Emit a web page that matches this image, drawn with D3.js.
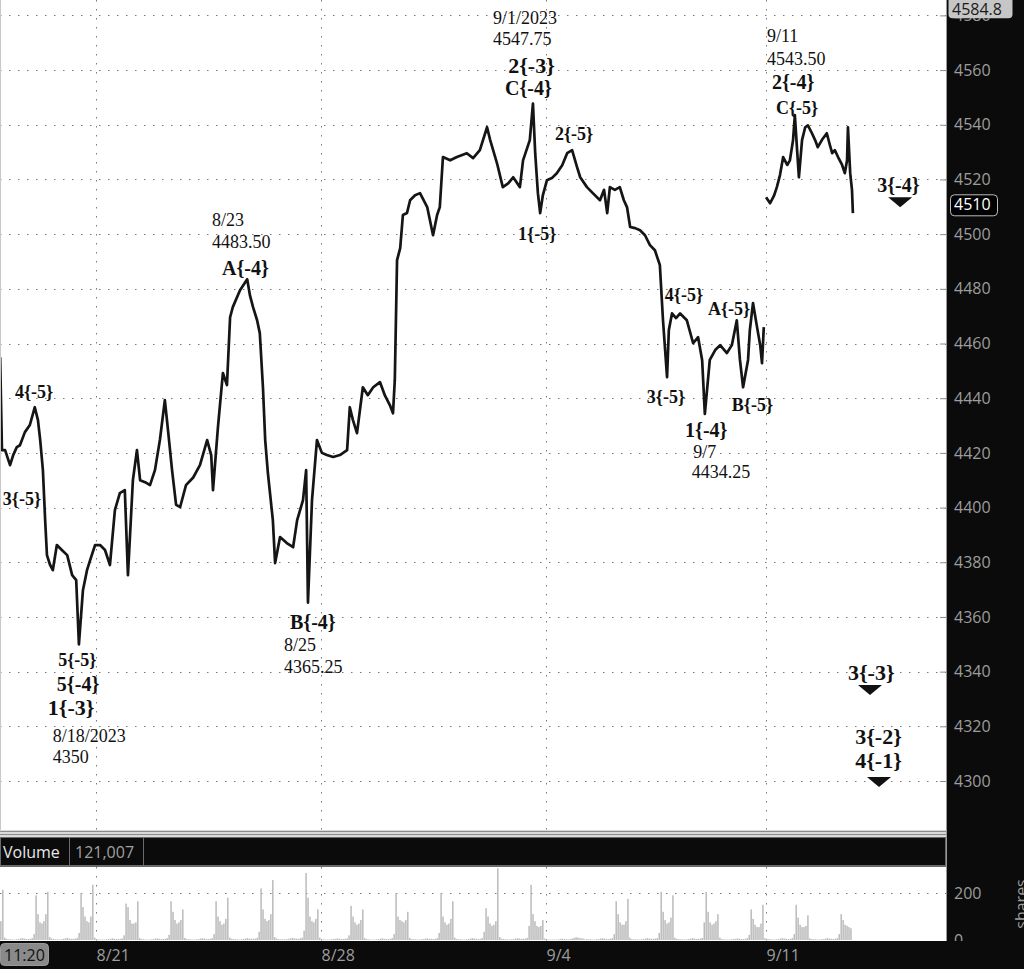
<!DOCTYPE html>
<html><head><meta charset="utf-8">
<script src="https://cdn.jsdelivr.net/npm/d3@7"></script>
<style>
html,body{margin:0;padding:0;background:#0b0b0b;}
svg{display:block;}
</style></head><body>
<svg id="chart" width="1024" height="969"></svg>
<script>
// ---------------- DATA ----------------
const priceTicks = [4300,4320,4340,4360,4380,4400,4420,4440,4460,4480,4500,4520,4540,4560,4580];
const dateTicks = ["8/21","8/28","9/4","9/11"];
const dateTickT = [0, 5, 10, 14.891];   // trading-day offsets from the 8/21 session start

// price path: time (trading-day offset) and price; null marks the weekend gap
const priceT = [-2.13,-2.09,-2.02,-1.91,-1.84,-1.76,-1.69,-1.58,-1.47,-1.36,-1.29,-1.24,-1.18,-1.13,-1.09,-1.02,-0.96,-0.87,-0.76,-0.64,-0.53,-0.44,-0.38,-0.29,-0.20,-0.13,-0.02,
 0.09,0.20,0.31,0.42,0.53,0.64,0.71,0.82,0.91,0.98,1.09,1.20,1.31,1.42,1.53,1.60,1.69,1.78,1.87,2.00,2.16,2.31,2.47,2.56,2.60,2.71,2.82,2.91,2.98,3.04,3.20,3.36,3.42,3.49,3.58,3.64,3.71,3.76,3.82,3.93,3.98,
 4.09,4.24,4.38,4.47,4.60,4.67,4.71,4.80,4.91,5.02,5.13,5.27,5.42,5.58,5.64,5.71,5.80,5.93,6.04,6.16,6.31,6.42,6.53,6.60,6.64,6.69,6.76,6.82,6.91,6.98,7.09,7.20,7.36,7.49,7.58,7.64,7.71,7.87,
 8.02,8.24,8.38,8.53,8.69,8.76,8.91,9.04,9.16,9.27,9.42,9.49,9.64,9.71,9.76,9.82,9.87,9.93,10.02,10.13,10.24,10.36,10.47,10.58,10.69,10.76,10.91,11.04,11.20,11.29,11.36,11.42,11.53,11.64,11.73,11.80,11.87,11.98,
 12.09,12.20,12.31,12.42,12.53,12.60,12.69,12.73,12.80,12.89,12.98,13.13,13.27,13.38,13.47,13.53,13.64,13.76,13.87,14.02,14.13,14.24,14.31,14.38,14.49,14.53,14.60,14.69,14.76,14.80,14.84,14.865,
 14.89,14.98,15.07,15.13,15.20,15.27,15.36,15.42,15.49,15.53,15.58,15.62,15.69,15.76,15.82,15.91,15.98,16.04,16.13,16.24,16.31,16.36,16.42,16.49,16.58,16.64,16.69,16.71,16.76,16.80,16.82];
const priceV = [4455.0,4421.0,4421.0,4415.5,4419.2,4422.1,4422.8,4427.6,4430.2,4436.7,4432.0,4424.7,4413.7,4395.4,4382.6,4379.0,4377.1,4386.3,4384.5,4382.6,4375.3,4373.5,4350.0,4369.8,4377.1,4380.8,4386.3,
 4386.3,4384.5,4379.0,4399.1,4405.3,4406.4,4375.3,4410.0,4421.0,4410.0,4409.3,4408.2,4413.7,4424.7,4439.3,4428.3,4413.7,4401.0,4400.2,4408.2,4411.0,4415.5,4424.7,4419.2,4406.4,4429.4,4449.2,4444.8,4469.6,4473.3,4479.5,4483.5,4477.7,4473.3,4468.5,4463.8,4444.0,4424.7,4412.6,4395.4,4379.7,
 4389.2,4387.0,4385.5,4395.4,4402.7,4413.7,4365.25,4402.7,4424.7,4420.0,4419.2,4418.5,4419.2,4421.0,4436.7,4432.0,4427.2,4444.0,4441.1,4444.0,4445.9,4441.0,4437.5,4434.5,4446.6,4490.5,4494.9,4507.0,4507.7,4512.4,4514.2,4515.0,4509.9,4499.6,4507.0,4509.9,4528.2,4527.0,
 4528.2,4529.6,4527.8,4530.7,4539.1,4534.4,4526.0,4517.2,4518.6,4520.8,4517.2,4527.0,4534.4,4547.75,4529.6,4515.0,4507.7,4514.2,4519.7,4520.5,4522.3,4525.2,4529.6,4530.7,4524.5,4520.8,4517.2,4515.0,4512.4,4516.2,4507.7,4517.2,4516.2,4517.2,4512.4,4509.9,4502.6,4502.2,
 4501.4,4499.6,4496.0,4494.1,4488.7,4468.5,4447.7,4464.9,4471.0,4469.3,4471.0,4468.5,4460.1,4462.3,4453.9,4434.25,4454.0,4457.6,4459.4,4456.5,4459.4,4468.5,4454.0,4444.0,4454.0,4464.9,4474.8,4466.0,4459.4,4452.8,4466.0,null,
 4513.5,4511.3,4514.2,4517.2,4521.6,4528.2,4525.3,4527.0,4534.4,4543.5,4530.7,4520.8,4534.4,4539.1,4539.8,4536.9,4534.4,4531.8,4534.4,4536.9,4532.5,4529.6,4530.7,4528.2,4525.3,4522.3,4527.0,4539.1,4522.3,4516.1,4507.7];

// volume: hourly values for each trading session (session opens 18:00 the prior evening)
const sessionDates = ["8/16","8/17","8/18","8/21","8/22","8/23","8/24","8/25","8/28","8/29","8/30","8/31","9/1","9/4","9/5","9/6","9/7","9/8","9/11","9/12"];
const sessionHours = [23,23,23,23,23,23,23,23,23,23,23,23,23,20.5,23,23,23,23,23,23];
const firstSessionT = -3;
const sessionVolume = [
 [4,3,3,2,2,3,4,6,7,5,4,4,5,7,20,150,100,70,60,65,80,214,10],
 [5,3,3,2,2,3,4,6,8,6,4,4,5,8,25,190,110,75,70,80,110,205,12],
 [6,4,3,3,2,3,5,7,9,6,5,5,6,9,30,200,140,100,80,75,100,235,10],
 [4,3,2,2,2,3,4,5,7,5,4,4,5,7,20,155,140,85,70,70,75,165,8],
 [4,3,2,2,2,3,4,6,7,5,4,4,5,8,22,165,120,85,70,75,85,130,9],
 [4,3,3,2,2,3,4,6,8,6,5,4,5,8,25,165,100,80,65,70,90,180,10],
 [5,4,3,3,2,3,4,6,8,6,5,5,6,9,35,220,130,90,80,85,110,255,12],
 [6,4,3,3,3,4,5,7,9,7,6,5,7,10,40,285,180,100,80,75,90,130,10],
 [4,3,2,2,2,3,4,5,7,5,4,4,5,7,20,145,100,75,65,70,85,130,8],
 [4,3,2,2,2,3,4,5,7,5,4,4,5,8,25,200,100,85,80,75,85,120,9],
 [4,3,3,2,2,3,4,6,7,5,5,4,5,8,30,200,100,75,65,70,90,165,10],
 [4,3,3,2,2,3,4,6,8,6,5,4,5,8,35,135,100,70,60,65,80,305,12],
 [5,4,3,3,2,3,4,6,8,6,5,5,6,9,60,235,110,80,60,55,60,85,6],
 [3,2,2,2,2,2,3,4,6,4,4,3,4,6,9,12,10,8,7,6],
 [4,3,3,2,2,3,4,6,8,6,5,4,5,8,25,165,110,75,65,65,80,175,10],
 [4,3,3,2,2,3,4,6,8,6,5,5,6,8,30,205,120,85,70,75,95,190,10],
 [5,4,3,3,2,3,4,6,8,6,5,5,6,9,75,205,120,75,65,70,80,110,10],
 [4,3,2,2,2,3,4,5,7,5,4,4,5,8,22,130,90,65,55,55,70,150,8],
 [5,4,3,2,2,3,4,6,8,6,5,4,5,8,25,150,95,65,55,55,60,105,7],
 [4,3,3,2,2,3,4,6,8,6,5,4,5,8,25,110,85,65,60,55,50]
];
const volumeTicks = [0, 200];

// Elliott wave labels (text, time, price)
const waveText = ["4{-5}","3{-5}","5{-5}","5{-4}","1{-3}","A{-4}","B{-4}","2{-3}","C{-4}","2{-5}","1{-5}","4{-5}","A{-5}","3{-5}","B{-5}","1{-4}","2{-4}","C{-5}","3{-4}","3{-3}","3{-2}","4{-1}"];
const waveT = [-1.80,-2.07,-0.84,-0.87,-1.07,2.80,4.31,9.16,9.09,10.20,9.38,12.64,13.60,12.24,14.13,13.09,15.02,15.11,17.36,16.71,16.87,16.87];
const waveV = [4442.3,4403.1,4344.2,4335.5,4327.1,4487.6,4358.1,4561.8,4553.4,4536.9,4500.1,4477.7,4472.9,4440.4,4437.5,4428.3,4555.6,4546.4,4517.9,4339.9,4316.5,4307.7];
// pivot notes (date / price)
const noteText = ["8/18/2023","4350","8/23","4483.50","8/25","4365.25","9/1/2023","4547.75","9/7","4434.25","9/11","4543.50"];
const noteT = [-0.96,-0.96,2.58,2.58,4.18,4.18,8.82,8.82,13.27,13.24,14.91,14.91];
const noteV = [4316.5,4308.8,4505.1,4497.1,4349.7,4341.7,4579.3,4571.3,4420.6,4413.0,4572.4,4564.3];
// projection markers (down triangles)
const markerT = [17.87, 17.20, 17.40];
const markerV = [4513.5, 4335.1, 4301.5];
const lastPrice = 4510;
const topPrice = 4584.8;
const volumeTotal = "121,007";
const cursorTime = "11:20";

// ---------------- LAYOUT ----------------
const W = 1024, H = 969, plotR = 946;
const priceBottom = 830, volTop = 867, volBottom = 941;
const axisFont = "'Open Sans', 'Noto Sans', sans-serif";
const serif = "'Liberation Serif', 'Times New Roman', serif";
const svg = d3.select("#chart");
const x = d3.scaleLinear().domain([0, 10]).range([96, 546]);
const y = d3.scaleLinear().domain([4300, 4580]).range([781, 15.4]);
const yv = d3.scaleLinear().domain([0, 200]).range([940, 893]);

svg.append("rect").attr("width", W).attr("height", H).attr("fill", "#0b0b0b");
const defs = svg.append("defs");
defs.append("clipPath").attr("id","cp-price").append("rect").attr("x",0).attr("y",0).attr("width",plotR).attr("height",priceBottom);
defs.append("clipPath").attr("id","cp-vol").append("rect").attr("x",0).attr("y",volTop).attr("width",plotR).attr("height",volBottom-volTop);
defs.append("clipPath").attr("id","cp-vax").append("rect").attr("x",plotR).attr("y",volTop).attr("width",W-plotR).attr("height",volBottom-volTop);

// panels
svg.append("rect").attr("x",0).attr("y",0).attr("width",plotR).attr("height",priceBottom).attr("fill","#fff");
svg.append("rect").attr("x",0).attr("y",volTop).attr("width",plotR).attr("height",volBottom-volTop).attr("fill","#fff");
// separator between price panel and volume header
svg.append("rect").attr("x",0).attr("y",priceBottom).attr("width",plotR).attr("height",7).attr("fill","#d8d8d8");
svg.append("line").attr("x1",0).attr("x2",plotR).attr("y1",priceBottom+1.5).attr("y2",priceBottom+1.5).attr("stroke","#8a8a8a");
svg.append("line").attr("x1",0).attr("x2",plotR).attr("y1",priceBottom+4.5).attr("y2",priceBottom+4.5).attr("stroke","#8a8a8a");
// volume header
svg.append("rect").attr("x",0.5).attr("y",837.5).attr("width",plotR-1).attr("height",28).attr("fill","#0b0b0b").attr("stroke","#6a6a6a");
svg.append("text").attr("x",3).attr("y",852).attr("dy","0.35em").attr("font-family",axisFont).attr("font-size",16).attr("fill","#e8e8e8").text("Volume");
svg.append("line").attr("x1",69.5).attr("x2",69.5).attr("y1",838).attr("y2",866).attr("stroke","#6a6a6a");
svg.append("text").attr("x",75).attr("y",852).attr("dy","0.35em").attr("font-family",axisFont).attr("font-size",16).attr("fill","#a0a0a0").text(volumeTotal);
svg.append("line").attr("x1",143.5).attr("x2",143.5).attr("y1",838).attr("y2",866).attr("stroke","#6a6a6a");

// grids (dotted)
const dotted = "1.5,7.5";
const gridCol = "#7a7a7a";
const gP = svg.append("g").attr("clip-path","url(#cp-price)");
gP.selectAll(".hg").data(priceTicks).join("line")
  .attr("x1",0).attr("x2",plotR).attr("y1",d=>Math.round(y(d))+0.5).attr("y2",d=>Math.round(y(d))+0.5)
  .attr("stroke",gridCol).attr("stroke-dasharray",dotted);
gP.selectAll(".vg").data(dateTickT).join("line")
  .attr("x1",d=>Math.round(x(d))+0.5).attr("x2",d=>Math.round(x(d))+0.5).attr("y1",0).attr("y2",priceBottom)
  .attr("stroke",gridCol).attr("stroke-dasharray",dotted);
// left border
svg.append("line").attr("x1",0.5).attr("x2",0.5).attr("y1",0).attr("y2",priceBottom).attr("stroke","#c8c8c8");

// price line
const pts = priceT.map((t,i)=>({t, v: priceV[i]}));
const line = d3.line().defined(d=>d.v!=null).x(d=>x(d.t)).y(d=>y(d.v)).curve(d3.curveLinear);
gP.append("path").datum(pts).attr("d",line).attr("fill","none").attr("stroke","#151515")
  .attr("stroke-width",2.7).attr("stroke-linejoin","round");

// wave labels
function waveSize(s){ const d = +s.match(/\{-(\d)\}/)[1]; return d>=5?18:(d===4?20:22); }
gP.selectAll(".wave").data(waveText).join("text")
  .attr("x",(d,i)=>x(waveT[i])).attr("y",(d,i)=>y(waveV[i])).attr("dy","0.35em")
  .attr("font-family",serif).attr("font-weight","bold").attr("font-size",d=>waveSize(d)).attr("fill","#111").text(d=>d);
gP.selectAll(".note").data(noteText).join("text")
  .attr("x",(d,i)=>x(noteT[i])).attr("y",(d,i)=>y(noteV[i])).attr("dy","0.35em")
  .attr("font-family",serif).attr("font-size",18).attr("fill","#111").text(d=>d);
gP.selectAll(".mk").data(markerT).join("path")
  .attr("d",(d,i)=>{const cx=x(d), ty=y(markerV[i]); return `M${cx-12},${ty}L${cx+12},${ty}L${cx},${ty+10}Z`;})
  .attr("fill","#111");

// price axis (right)
const yAxis = d3.axisRight(y).tickValues(priceTicks).tickSizeInner(-6).tickSizeOuter(0).tickPadding(8).tickFormat(d3.format("d"));
const gy = svg.append("g").attr("transform",`translate(${plotR},0)`).call(yAxis);
gy.select(".domain").remove();
gy.selectAll(".tick line").attr("stroke","#8c8c8c");
gy.selectAll(".tick text").attr("font-family",axisFont).attr("font-size",16).attr("fill","#9d9d9d");
svg.append("line").attr("x1",plotR+0.5).attr("x2",plotR+0.5).attr("y1",0).attr("y2",volBottom).attr("stroke","#9a9a9a");

// top value box
const ty0 = Math.max(0, y(topPrice));
svg.append("rect").attr("x",948.5).attr("y",ty0-5).attr("width",64).attr("height",21).attr("rx",4).attr("fill","#c6c6c6");
svg.append("text").attr("x",952).attr("y",ty0+7).attr("dy","0.35em").attr("font-family",axisFont).attr("font-size",16).attr("fill","#1a1a1a").text(topPrice.toFixed(1));
// last price box
const ly = y(lastPrice) - 2;
svg.append("rect").attr("x",950.5).attr("y",ly-10).attr("width",47).attr("height",21).attr("rx",4).attr("fill","#000").attr("stroke","#bdbdbd");
svg.append("text").attr("x",954).attr("y",ly).attr("dy","0.35em").attr("font-family",axisFont).attr("font-size",16).attr("fill","#fff").text(lastPrice);

// volume panel
const gV = svg.append("g").attr("clip-path","url(#cp-vol)");
gV.selectAll(".vh").data([200]).join("line")
  .attr("x1",0).attr("x2",plotR).attr("y1",d=>Math.round(yv(d))+0.5).attr("y2",d=>Math.round(yv(d))+0.5)
  .attr("stroke",gridCol).attr("stroke-dasharray",dotted);
gV.selectAll(".vv").data(dateTickT).join("line")
  .attr("x1",d=>Math.round(x(d))+0.5).attr("x2",d=>Math.round(x(d))+0.5).attr("y1",volTop).attr("y2",volBottom)
  .attr("stroke",gridCol).attr("stroke-dasharray",dotted);
const bars = [];
let st = firstSessionT;
sessionVolume.forEach((arr,si)=>{
  arr.forEach((v,h)=>bars.push({t: st + h/23, v}));
  st += sessionHours[si]/23;
});
const bw = x(1/23) - x(0);
gV.selectAll(".vb").data(bars).join("rect")
  .attr("x",d=>x(d.t)).attr("width",bw-0.5).attr("y",d=>yv(d.v)).attr("height",d=>yv(0)-yv(d.v))
  .attr("fill","#b9b9b9");
svg.append("line").attr("x1",0).attr("x2",plotR).attr("y1",volTop-0.5).attr("y2",volTop-0.5).attr("stroke","#6a6a6a");
// volume axis
const gva = svg.append("g").attr("clip-path","url(#cp-vax)");
const vAxis = d3.axisRight(yv).tickValues(volumeTicks).tickSizeInner(-6).tickSizeOuter(0).tickPadding(8);
const gvy = gva.append("g").attr("transform",`translate(${plotR},0)`).call(vAxis);
gvy.select(".domain").remove();
gvy.selectAll(".tick line").attr("stroke","#8c8c8c");
gvy.selectAll(".tick text").attr("font-family",axisFont).attr("font-size",16).attr("fill","#9d9d9d");
gva.append("text").attr("transform",`translate(1027,${(volTop+volBottom)/2}) rotate(-90)`).attr("text-anchor","middle")
  .attr("font-family",axisFont).attr("font-size",16).attr("fill","#9d9d9d").text("shares");

// date axis (bottom)
const xAxis = d3.axisBottom(x).tickValues(dateTickT).tickSize(0).tickPadding(0).tickFormat((d,i)=>dateTicks[i]);
const gx = svg.append("g").attr("transform",`translate(0,${volBottom})`).call(xAxis);
gx.select(".domain").remove();
gx.selectAll(".tick text").attr("text-anchor","start").attr("y",14).attr("dy","0.35em")
  .attr("font-family",axisFont).attr("font-size",16).attr("fill","#9d9d9d");
// cursor time box
svg.append("rect").attr("x",0.5).attr("y",943.5).attr("width",48).attr("height",22).attr("rx",4).attr("fill","#8a8a8a").attr("stroke","#9a9a9a");
svg.append("text").attr("x",4).attr("y",955).attr("dy","0.35em").attr("font-family",axisFont).attr("font-size",16).attr("fill","#111").text(cursorTime);
</script>
</body></html>
